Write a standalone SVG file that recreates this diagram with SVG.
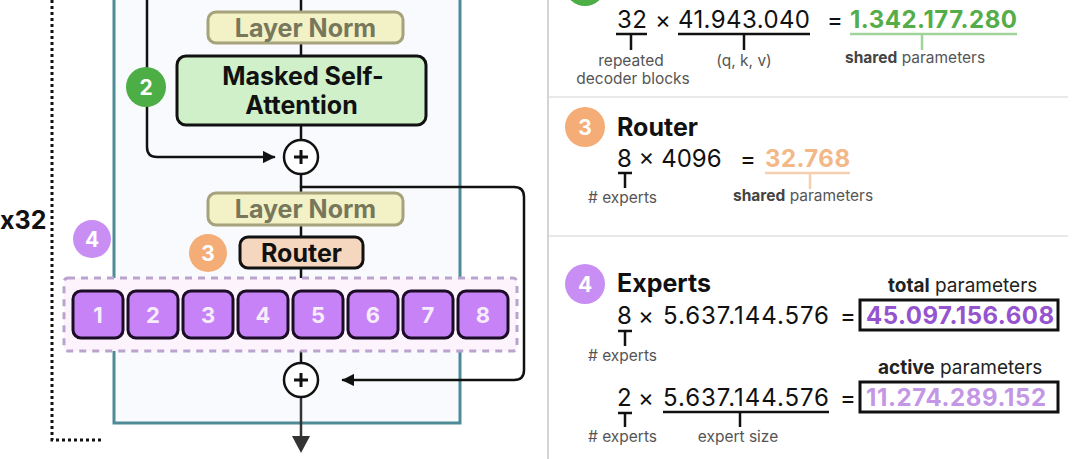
<svg xmlns="http://www.w3.org/2000/svg" width="1079" height="459" viewBox="0 0 1079 459">
<defs>
<style>
.t{font-family:Inter,"Liberation Sans",sans-serif}
.b{font-weight:700}
.ln{fill:#f3f1c6;stroke:#a5a27c;stroke-width:3}
.lnt{fill:#77775c;font-size:25px;font-weight:700;text-anchor:middle}
.blk{fill:none;stroke:#111;stroke-width:2.5;stroke-linecap:round;stroke-linejoin:round}
.ex{fill:#c782f7;stroke:#1c0d26;stroke-width:3}
.ext{fill:#f6ecfb;font-size:22px;font-weight:700;text-anchor:middle}
.badge{fill:#fff;font-size:21px;font-weight:700;text-anchor:middle}
.plus{fill:#fff;stroke:#111;stroke-width:2.5}
.num{font-size:24px;fill:#111}
.green{fill:#55ad4a}
.orange{fill:#f3b887}
.purple{fill:#9553cf}
.lpurple{fill:#c496e6}
.small{font-size:15.5px;fill:#555}
.lbl{font-size:19px;fill:#222}
.tick{stroke:#111;stroke-width:2.5;fill:none}
.sep{stroke:#e2e2e2;stroke-width:1.5}
</style>
<marker id="ah" viewBox="0 0 10 10" refX="9" refY="5" markerWidth="5" markerHeight="5" orient="auto"><path d="M0,0 L10,5 L0,10 z" fill="#111"/></marker>
</defs>
<rect width="1079" height="459" fill="#fff"/>

<g id="repeat">
<path d="M52,0 V440 H102" fill="none" stroke="#111" stroke-width="3" stroke-dasharray="3,3"/>
<text class="t b" x="0" y="229" font-size="25" fill="#111">x32</text>
</g>

<g id="decoder-block">
<rect x="114" y="-10" width="346" height="433" fill="#f8fafd" stroke="#4e8b97" stroke-width="3"/>
</g>

<g id="connectors">
<path class="blk" d="M301,0 V139"/>
<path class="blk" d="M301,175 V362"/>
<path d="M301,398 V440" stroke="#333" stroke-width="2.5"/>
<path d="M292,436 L310,436 L301,453 z" fill="#333"/>
<path class="blk" d="M147,0 V147 Q147,157 157,157 H274" marker-end="url(#ah)"/>
<path class="blk" d="M301,187 H514 Q524,187 524,197 V370 Q524,380 514,380 H343" marker-end="url(#ah)"/>
</g>

<g id="layer-norm-1">
<rect class="ln" x="208" y="12" width="195" height="31" rx="8"/>
<text class="t lnt" x="305.5" y="36.5">Layer Norm</text>
</g>

<g id="masked-self-attention">
<rect x="177" y="56" width="249" height="69" rx="9" fill="#cff0c9" stroke="#111" stroke-width="3"/>
<text class="t b" x="303" y="85" font-size="25" text-anchor="middle" fill="#111">Masked Self-</text>
<text class="t b" x="301.5" y="114" font-size="25" text-anchor="middle" fill="#111">Attention</text>
</g>

<g id="badge-2">
<circle cx="146" cy="87" r="20" fill="#4cae45"/>
<text class="t badge" x="146" y="94.5">2</text>
</g>

<g id="add-1">
<circle class="plus" cx="301" cy="157" r="17"/>
<path d="M294,157 H308 M301,150 V164" stroke="#111" stroke-width="3"/>
</g>

<g id="layer-norm-2">
<rect class="ln" x="208" y="193" width="195" height="32" rx="8"/>
<text class="t lnt" x="305.5" y="218">Layer Norm</text>
</g>

<g id="badge-4-left">
<circle cx="92" cy="239" r="19" fill="#c98ef3"/>
<text class="t badge" x="92" y="246.5">4</text>
</g>

<g id="badge-3-left">
<circle cx="208" cy="253" r="19" fill="#f4ad76"/>
<text class="t badge" x="208" y="260.5">3</text>
</g>

<g id="router">
<rect x="240" y="237" width="123" height="31" rx="8" fill="#f5d6bf" stroke="#111" stroke-width="3"/>
<text class="t b" x="301.5" y="261.5" font-size="25" text-anchor="middle" fill="#111">Router</text>
</g>

<g id="experts">
<rect x="64" y="278" width="453" height="73" rx="4" fill="#fdf3fd" stroke="#baa4cd" stroke-width="3" stroke-dasharray="7,6"/>
<rect class="ex" x="73" y="291" width="50" height="47" rx="8"/><text class="t ext" x="98" y="322.5">1</text>
<rect class="ex" x="128" y="291" width="50" height="47" rx="8"/><text class="t ext" x="153" y="322.5">2</text>
<rect class="ex" x="183" y="291" width="50" height="47" rx="8"/><text class="t ext" x="208" y="322.5">3</text>
<rect class="ex" x="238" y="291" width="50" height="47" rx="8"/><text class="t ext" x="263" y="322.5">4</text>
<rect class="ex" x="293" y="291" width="50" height="47" rx="8"/><text class="t ext" x="318" y="322.5">5</text>
<rect class="ex" x="348" y="291" width="50" height="47" rx="8"/><text class="t ext" x="373" y="322.5">6</text>
<rect class="ex" x="403" y="291" width="50" height="47" rx="8"/><text class="t ext" x="428" y="322.5">7</text>
<rect class="ex" x="458" y="291" width="50" height="47" rx="8"/><text class="t ext" x="483" y="322.5">8</text>
</g>

<g id="add-2">
<circle class="plus" cx="301" cy="380" r="17"/>
<path d="M294,380 H308 M301,373 V387" stroke="#111" stroke-width="3"/>
</g>

<g id="panel">
<line x1="548" y1="0" x2="548" y2="459" stroke="#d4d4d4" stroke-width="2"/>
<line class="sep" x1="549" y1="97" x2="1068" y2="97"/>
<line class="sep" x1="549" y1="236" x2="1068" y2="236"/>
</g>

<g id="section-attention">
<circle cx="585" cy="-14" r="20" fill="#4cae45"/>
<text class="t num" x="617" y="28" textLength="30">32</text>
<text class="t num" x="655" y="28">×</text>
<text class="t num" x="678" y="28" textLength="132">41.943.040</text>
<text class="t num" x="827" y="28">=</text>
<text class="t num b green" x="850" y="28" textLength="167">1.342.177.280</text>
<path class="tick" d="M616,34 H647 M631,34 V50"/>
<path class="tick" d="M678,34 H810 M744,34 V50"/>
<path d="M850,34 H1017 M922,34 V50" stroke="#9fd39a" stroke-width="2.5" fill="none"/>
<text class="t small" x="631" y="66" text-anchor="middle">repeated</text>
<text class="t small" x="633" y="84" text-anchor="middle">decoder blocks</text>
<text class="t small" x="744" y="66" text-anchor="middle">(q, k, v)</text>
<text class="t small" x="845" y="63"><tspan class="b" fill="#444">shared</tspan> parameters</text>
</g>

<g id="section-router">
<circle cx="585" cy="127" r="20" fill="#f4ad76"/>
<text class="t badge" x="585" y="134.5">3</text>
<text class="t b" x="617" y="136" font-size="25" fill="#111">Router</text>
<text class="t num" x="617" y="167">8 × 4096</text>
<text class="t num" x="740" y="167">=</text>
<text class="t num b orange" x="765" y="167" textLength="85">32.768</text>
<path d="M765,173 H850 M810,173 V189" stroke="#f6cfae" stroke-width="2.5" fill="none"/>
<path class="tick" d="M618,173 H632 M625,173 V188"/>
<text class="t small" x="588" y="203"># experts</text>
<text class="t small" x="733" y="201"><tspan class="b" fill="#444">shared</tspan> parameters</text>
</g>

<g id="section-experts">
<circle cx="585" cy="284" r="20" fill="#c98ef3"/>
<text class="t badge" x="585" y="291.5">4</text>
<text class="t b" x="617" y="292" font-size="25" fill="#111">Experts</text>
<text class="t lbl" x="888" y="292"><tspan class="b">total</tspan> parameters</text>
<text class="t num" x="617" y="324">8</text>
<text class="t num" x="638" y="324">×</text>
<text class="t num" x="663" y="324" textLength="166">5.637.144.576</text>
<text class="t num" x="840" y="324">=</text>
<rect x="860" y="300" width="198" height="30" fill="none" stroke="#111" stroke-width="3"/>
<text class="t num b purple" x="866" y="324" textLength="188">45.097.156.608</text>
<path class="tick" d="M618,331 H632 M625,331 V346"/>
<text class="t small" x="588" y="361"># experts</text>
<text class="t lbl" x="878" y="374"><tspan class="b">active</tspan> parameters</text>
<text class="t num" x="617" y="406">2</text>
<text class="t num" x="638" y="406">×</text>
<text class="t num" x="663" y="406" textLength="166">5.637.144.576</text>
<text class="t num" x="840" y="406">=</text>
<rect x="860" y="382" width="198" height="30" fill="none" stroke="#111" stroke-width="3"/>
<text class="t num b lpurple" x="866" y="406" textLength="180">11.274.289.152</text>
<path class="tick" d="M618,413 H632 M625,413 V427"/>
<path class="tick" d="M663,412 H829 M740,412 V427"/>
<text class="t small" x="588" y="442"># experts</text>
<text class="t small" x="738" y="442" text-anchor="middle">expert size</text>
</g>
</svg>
